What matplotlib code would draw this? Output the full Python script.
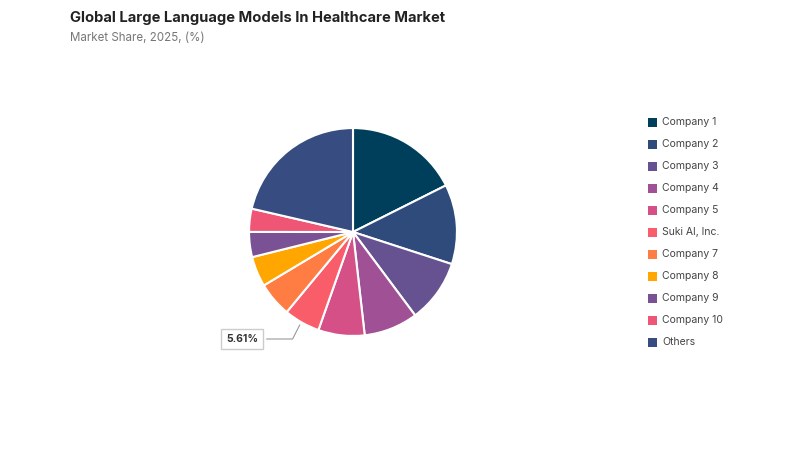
import matplotlib.pyplot as plt
from matplotlib.patches import Rectangle

plt.rcParams['font.family'] = ['Inter', 'DejaVu Sans']

companies = ['Company 1', 'Company 2', 'Company 3', 'Company 4', 'Company 5',
             'Suki AI, Inc.', 'Company 7', 'Company 8', 'Company 9', 'Company 10', 'Others']
shares = [17.6, 12.4, 9.8, 8.4, 7.2, 5.61, 5.4, 4.7, 3.9, 3.6, 21.39]
colors = ['#003f5c', '#2f4b7c', '#665191', '#a05195', '#d45087', '#f95d6a',
          '#ff7c43', '#ffa600', '#7a5195', '#ef5675', '#374c80']

fig = plt.figure(figsize=(8, 4.5), dpi=100)

fig.text(70 / 800, 1 - 18 / 450, 'Global Large Language Models In Healthcare Market',
         fontsize=10.6, fontweight='bold', color='#222222', va='center')
fig.text(70 / 800, 1 - 38 / 450, 'Market Share, 2025, (%)',
         fontsize=8.3, color='#777777', va='center')

# pie axes: center (353, 232) px, radius ~105 px
ax = fig.add_axes([(353 - 105) / 800, 1 - (232 + 105) / 450, 210 / 800, 210 / 450])
wedges, _ = ax.pie(shares, colors=colors, startangle=90, counterclock=False,
                   wedgeprops=dict(edgecolor='white', linewidth=1.5))
ax.set_xlim(-1.01, 1.01)
ax.set_ylim(-1.01, 1.01)
ax.set_aspect('equal')

# label for Suki AI, Inc.
ax.annotate('5.61%', xy=(-0.5, -0.87), xycoords='data',
            xytext=(242 / 800, 1 - 339 / 450), textcoords='figure fraction',
            ha='center', va='center', fontsize=7.5, fontweight='bold', color='#333333',
            bbox=dict(boxstyle='square,pad=0.5', fc='white', ec='#cccccc', lw=1),
            arrowprops=dict(arrowstyle='-', color='#999999', lw=0.8,
                            connectionstyle='angle,angleA=0,angleB=63,rad=0'))

# legend
for i, (name, col) in enumerate(zip(companies, colors)):
    y = 1 - (122 + 22 * i) / 450
    fig.patches.append(Rectangle((648 / 800, y - 4.5 / 450), 9 / 800, 9 / 450,
                                 transform=fig.transFigure, facecolor=col,
                                 edgecolor='none'))
    fig.text(662 / 800, y, name, fontsize=7.5, color='#444444', va='center')

fig.savefig('out.png', dpi=100)
